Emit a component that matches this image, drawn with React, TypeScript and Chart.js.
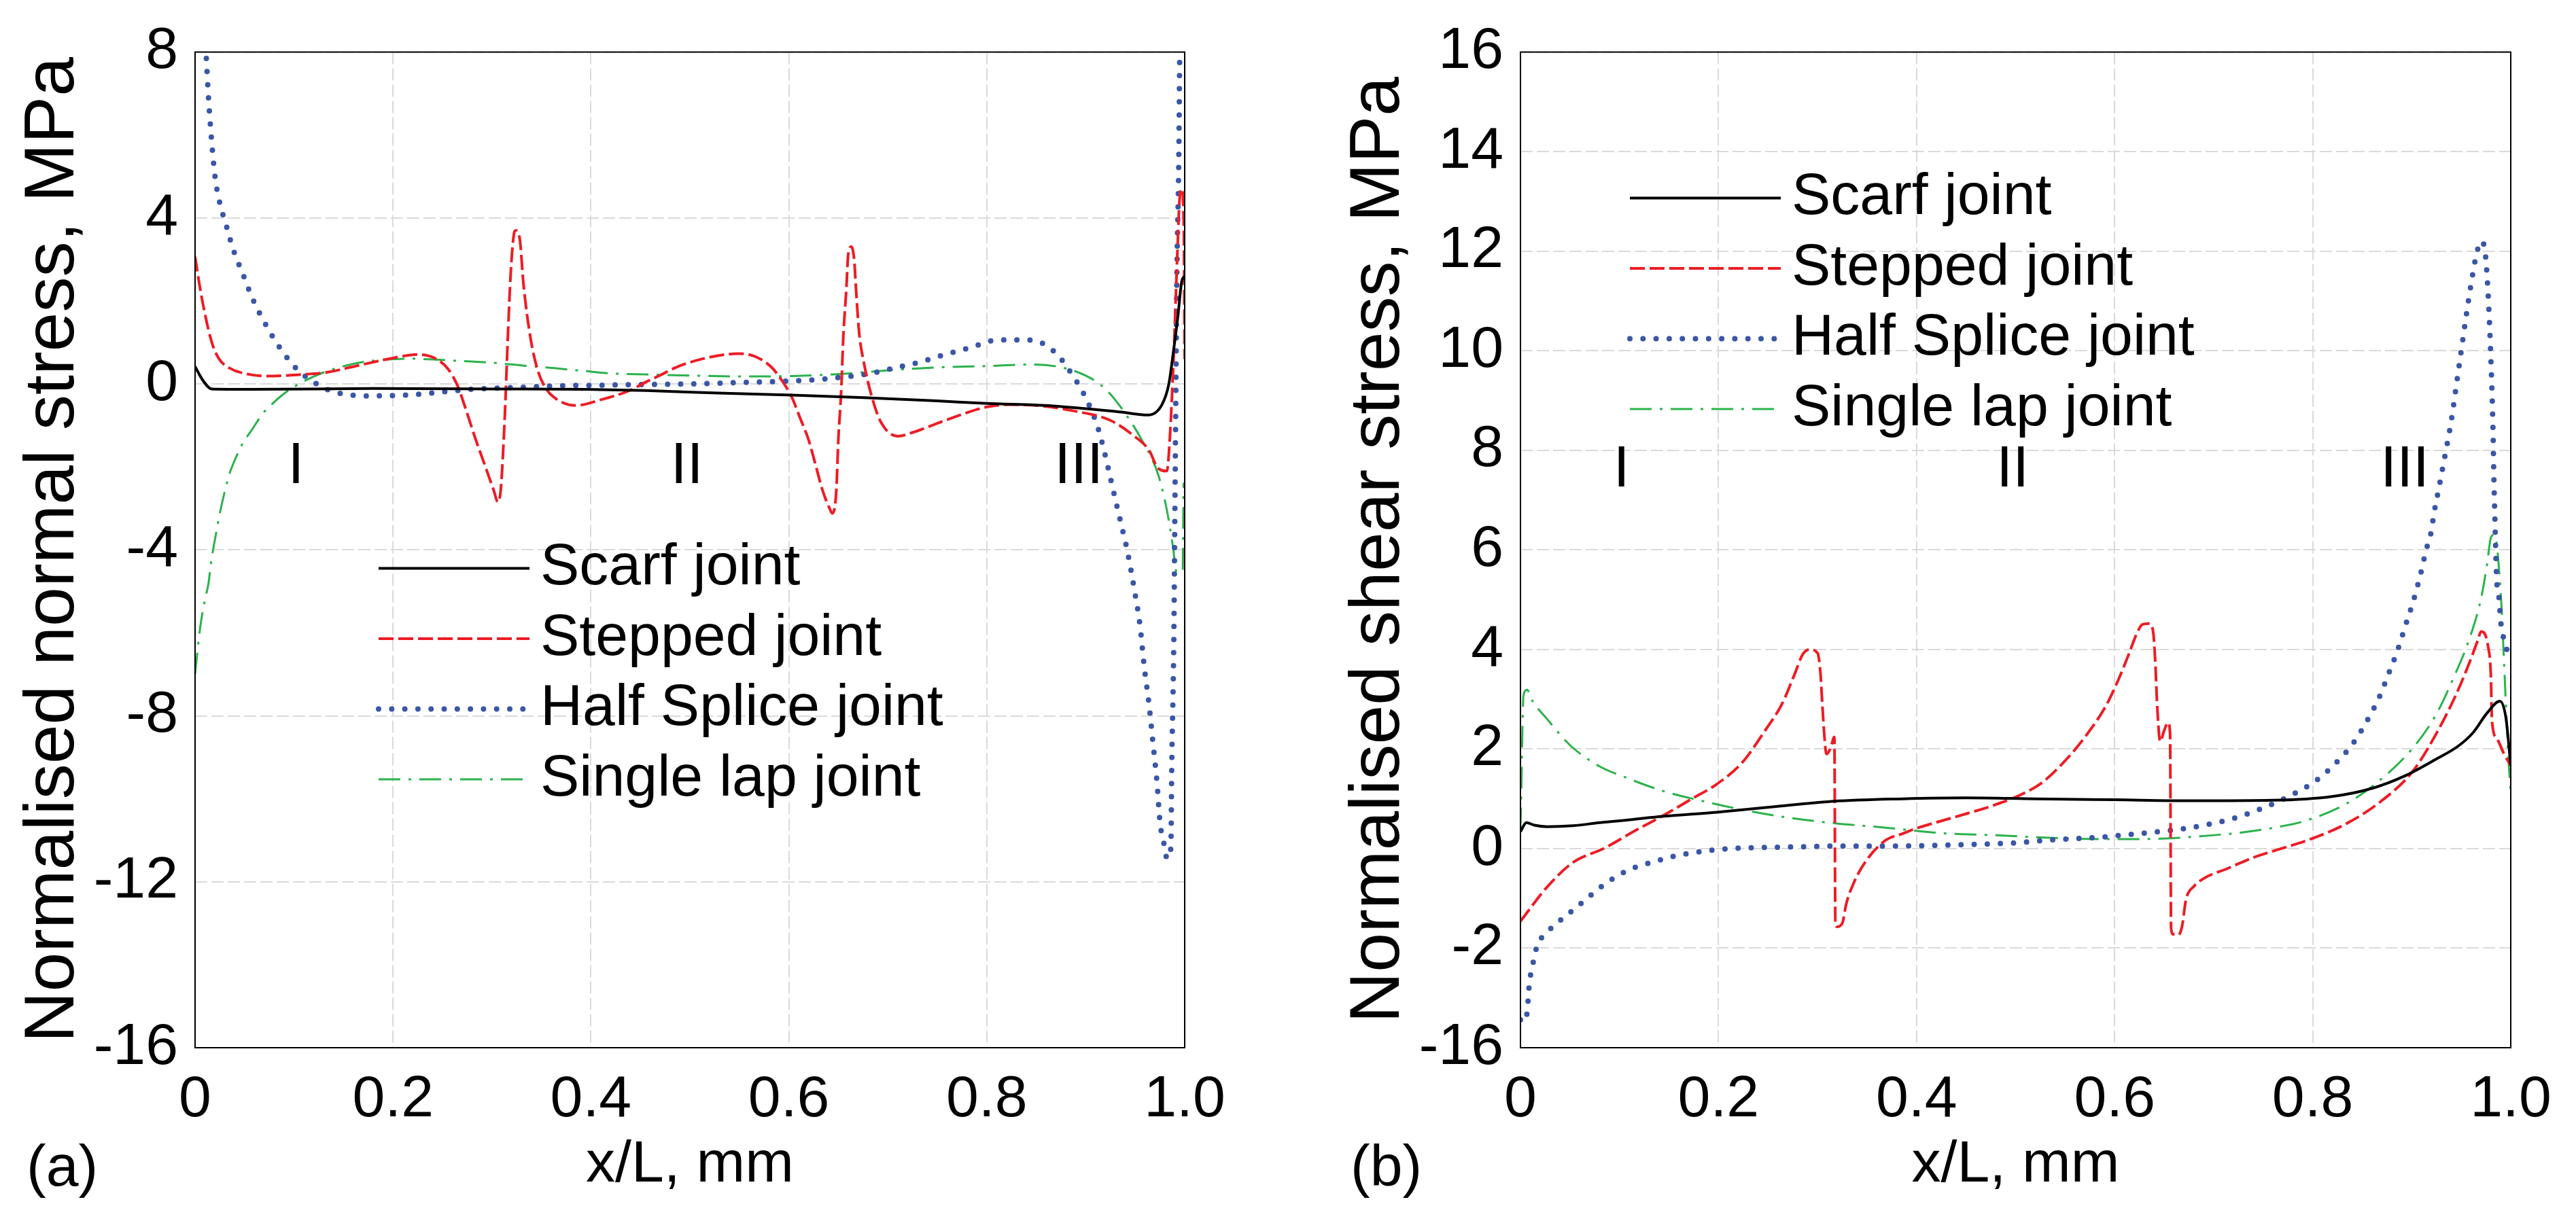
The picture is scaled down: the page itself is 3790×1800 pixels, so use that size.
import { useEffect, useRef } from "react"
import { Chart, registerables } from "chart.js"

Chart.register(...registerables)

const FONT = "'Liberation Sans', Arial, sans-serif"

// (x/L, stress) pairs

// (a) normal stress
const normalScarf = [
  [0, 0.42], [0.0075, 0.1], [0.0167, -0.12], [0.0565, -0.13], [0.18, -0.11], [0.3, -0.12],
  [0.394, -0.13], [0.455, -0.16], [0.529, -0.22], [0.603, -0.27], [0.676, -0.33], [0.75, -0.41],
  [0.8, -0.47], [0.867, -0.53], [0.936, -0.68], [0.963, -0.75], [0.977, -0.5], [0.984, 0.0],
  [0.988, 0.67], [0.993, 1.6], [0.997, 2.47], [1.0, 2.6],
]
const normalStepped = [
  [0, 3.07], [0.0046, 2.37], [0.009, 1.8], [0.0136, 1.3], [0.018, 0.92], [0.0243, 0.6],
  [0.035, 0.38], [0.057, 0.22], [0.078, 0.19], [0.103, 0.22], [0.133, 0.28], [0.164, 0.44],
  [0.195, 0.6], [0.225, 0.71], [0.244, 0.6], [0.256, 0.35], [0.265, -0.03], [0.274, -0.64],
  [0.283, -1.3], [0.293, -1.97], [0.302, -2.58], [0.306, -2.85], [0.309, -2.52], [0.313, -0.76],
  [0.316, 1.1], [0.319, 2.69], [0.322, 3.58], [0.324, 3.7], [0.328, 3.51], [0.332, 2.37],
  [0.339, 1.1], [0.346, 0.35], [0.354, -0.09], [0.363, -0.33], [0.385, -0.52], [0.409, -0.39],
  [0.44, -0.15], [0.455, 0.04], [0.47, 0.21], [0.487, 0.41], [0.512, 0.6], [0.536, 0.71],
  [0.549, 0.73], [0.566, 0.66], [0.583, 0.39], [0.593, 0.08], [0.603, -0.32], [0.612, -0.86],
  [0.62, -1.35], [0.627, -1.95], [0.634, -2.56], [0.641, -2.99], [0.644, -3.12], [0.648, -2.56],
  [0.65, -1.35], [0.653, -0.13], [0.655, 1.12], [0.658, 2.24], [0.66, 3.12], [0.663, 3.31],
  [0.666, 3.0], [0.668, 2.24], [0.671, 1.24], [0.676, 0.49], [0.684, -0.32], [0.693, -0.92],
  [0.71, -1.26], [0.725, -1.17], [0.75, -0.95], [0.774, -0.74], [0.799, -0.56], [0.823, -0.5],
  [0.845, -0.51], [0.89, -0.66], [0.925, -0.88], [0.948, -1.24], [0.964, -1.6], [0.973, -2.03],
  [0.982, -2.1], [0.985, -1.3], [0.989, 0.74], [0.992, 2.76], [0.995, 4.5], [0.997, 4.7],
  [0.999, 3.9], [1.0, 0.6],
]
const normalHalfSplice = [
  [0.004, 11], [0.0112, 7.93], [0.0135, 6.92], [0.0163, 5.99], [0.0199, 5.05], [0.0243, 4.43],
  [0.0314, 3.83], [0.0387, 3.23], [0.0483, 2.65], [0.058, 2.06], [0.07, 1.49], [0.084, 0.93],
  [0.1, 0.43], [0.11, 0.21], [0.121, 0.03], [0.133, -0.13], [0.145, -0.22], [0.158, -0.27],
  [0.172, -0.29], [0.199, -0.28], [0.225, -0.25], [0.252, -0.19], [0.279, -0.13], [0.305, -0.1],
  [0.332, -0.08], [0.359, -0.05], [0.412, -0.03], [0.466, -0.01], [0.504, 0], [0.546, 0.03],
  [0.6, 0.07], [0.627, 0.1], [0.653, 0.16], [0.68, 0.24], [0.706, 0.38], [0.733, 0.53],
  [0.758, 0.71], [0.784, 0.88], [0.808, 1.05], [0.822, 1.06], [0.836, 1.06], [0.849, 1.05],
  [0.862, 0.89], [0.872, 0.69], [0.887, 0.2], [0.895, -0.11], [0.901, -0.38], [0.911, -0.96],
  [0.918, -1.55], [0.924, -2.17], [0.93, -2.79], [0.936, -3.4], [0.942, -4.02], [0.949, -4.94],
  [0.955, -5.85], [0.959, -6.79], [0.964, -7.73], [0.968, -8.67], [0.972, -9.6], [0.975, -10.55],
  [0.98, -11.19], [0.982, -11.44], [0.986, -11.19], [0.987, -9.1], [0.989, -6.21], [0.99, -3.33],
  [0.991, -0.44], [0.992, 2.45], [0.994, 5.34], [0.995, 8.0], [0.997, 10.5],
]
const normalSingleLap = [
  [0, -7.0], [0.005, -5.9], [0.01, -5.2], [0.0136, -4.8], [0.016, -4.33], [0.0207, -3.67],
  [0.025, -3.12], [0.0295, -2.64], [0.035, -2.15], [0.041, -1.79], [0.047, -1.48], [0.057, -1.12],
  [0.069, -0.7], [0.078, -0.48], [0.093, -0.18], [0.112, 0.09], [0.13, 0.28], [0.152, 0.44],
  [0.17, 0.53], [0.195, 0.59], [0.216, 0.61], [0.24, 0.59], [0.271, 0.55], [0.302, 0.51],
  [0.332, 0.44], [0.363, 0.38], [0.394, 0.31], [0.424, 0.25], [0.455, 0.23], [0.504, 0.2],
  [0.553, 0.18], [0.603, 0.19], [0.652, 0.24], [0.701, 0.33], [0.75, 0.4], [0.799, 0.43],
  [0.845, 0.47], [0.89, 0.3], [0.918, -0.08], [0.936, -0.58], [0.959, -1.45], [0.973, -2.17],
  [0.982, -3.04], [0.988, -3.9], [0.992, -4.55], [0.998, -4.48], [0.999, -2.4], [1.0, -2.4],
]

// (b) shear stress
const shearScarf = [
  [0, 0.34], [0.006, 0.52], [0.014, 0.47], [0.027, 0.44], [0.053, 0.46], [0.08, 0.52],
  [0.106, 0.57], [0.145, 0.65], [0.198, 0.73], [0.251, 0.83], [0.316, 0.95], [0.386, 1.0],
  [0.45, 1.02], [0.52, 1.0], [0.6, 0.98], [0.68, 0.96], [0.76, 0.97], [0.821, 1.05],
  [0.86, 1.21], [0.892, 1.45], [0.924, 1.79], [0.947, 2.06], [0.962, 2.33], [0.976, 2.72],
  [0.989, 2.96], [0.995, 2.64], [1.0, 1.67],
]
const shearStepped = [
  [0, -1.46], [0.027, -0.77], [0.053, -0.28], [0.085, 0.01], [0.114, 0.34], [0.143, 0.65],
  [0.174, 1.01], [0.198, 1.29], [0.224, 1.73], [0.248, 2.4], [0.264, 2.9], [0.277, 3.51],
  [0.285, 3.9], [0.292, 4.0], [0.3, 3.93], [0.303, 3.51], [0.305, 2.84], [0.307, 2.24],
  [0.309, 1.9], [0.313, 2.01], [0.317, 2.24], [0.318, -1.5], [0.3195, -1.57], [0.325, -1.5],
  [0.329, -1.11], [0.337, -0.67], [0.35, -0.22], [0.369, 0.17], [0.386, 0.3], [0.399, 0.4],
  [0.438, 0.63], [0.478, 0.87], [0.504, 1.07], [0.525, 1.3], [0.546, 1.68], [0.57, 2.24],
  [0.591, 2.86], [0.604, 3.4], [0.614, 3.89], [0.622, 4.3], [0.628, 4.5], [0.635, 4.52],
  [0.639, 4.34], [0.641, 3.76], [0.643, 2.86], [0.646, 2.15], [0.65, 2.37], [0.654, 2.53],
  [0.656, 2.3], [0.657, -1.6], [0.659, -1.72], [0.664, -1.74], [0.668, -1.57], [0.672, -1.03],
  [0.68, -0.76], [0.69, -0.6], [0.714, -0.4], [0.74, -0.18], [0.765, -0.02], [0.798, 0.19],
  [0.833, 0.49], [0.867, 0.92], [0.901, 1.55], [0.924, 2.28], [0.944, 3.06], [0.958, 3.72],
  [0.967, 4.2], [0.97, 4.36], [0.977, 4.07], [0.98, 3.42], [0.981, 2.57], [0.986, 2.21],
  [0.993, 1.91], [1.0, 1.67],
]
const shearHalfSplice = [
  [0, -3.44], [0.005, -3.48], [0.007, -3.23], [0.008, -2.97], [0.009, -2.71], [0.011, -2.46],
  [0.014, -2.19], [0.017, -1.93], [0.025, -1.73], [0.034, -1.54], [0.045, -1.37], [0.055, -1.2],
  [0.065, -1.04], [0.075, -0.87], [0.086, -0.7], [0.097, -0.56], [0.108, -0.44], [0.121, -0.34],
  [0.134, -0.27], [0.146, -0.2], [0.16, -0.13], [0.173, -0.09], [0.186, -0.05], [0.199, -0.02],
  [0.212, 0], [0.24, 0.02], [0.266, 0.03], [0.292, 0.04], [0.318, 0.05], [0.373, 0.05],
  [0.451, 0.08], [0.504, 0.12], [0.533, 0.17], [0.559, 0.2], [0.587, 0.23], [0.613, 0.28],
  [0.64, 0.33], [0.667, 0.39], [0.693, 0.48], [0.719, 0.6], [0.744, 0.77], [0.768, 0.97],
  [0.781, 1.1], [0.803, 1.36], [0.823, 1.71], [0.841, 2.12], [0.855, 2.57], [0.867, 3.03],
  [0.877, 3.53], [0.886, 4.0], [0.894, 4.5], [0.902, 5.0], [0.909, 5.52], [0.915, 6.03],
  [0.919, 6.3], [0.923, 6.79], [0.928, 7.3], [0.933, 7.83], [0.94, 8.6], [0.945, 9.3],
  [0.95, 10.0], [0.955, 10.7], [0.96, 11.35], [0.965, 11.9], [0.97, 12.2], [0.974, 12.0],
  [0.977, 11.2], [0.98, 9.8], [0.982, 8.48], [0.983, 7.42], [0.984, 6.62], [0.985, 5.85],
  [0.986, 5.33], [0.988, 5.06], [0.99, 4.53], [0.992, 4.3], [0.996, 4.0], [1.0, 3.95],
]
const shearSingleLap = [
  [0, 0.39], [0.001, 1.29], [0.002, 2.4], [0.003, 3.07], [0.007, 3.19], [0.01, 3.04],
  [0.027, 2.6], [0.051, 2.06], [0.08, 1.65], [0.106, 1.43], [0.145, 1.15], [0.185, 0.95],
  [0.224, 0.78], [0.264, 0.64], [0.316, 0.51], [0.369, 0.42], [0.425, 0.31], [0.478, 0.27],
  [0.53, 0.22], [0.583, 0.19], [0.609, 0.19], [0.648, 0.2], [0.688, 0.25], [0.727, 0.32],
  [0.764, 0.43], [0.793, 0.56], [0.833, 0.89], [0.867, 1.36], [0.899, 1.97], [0.924, 2.67],
  [0.942, 3.42], [0.958, 4.2], [0.97, 5.02], [0.976, 5.7], [0.98, 6.25], [0.983, 6.3],
  [0.986, 6.1], [0.988, 5.65], [0.991, 4.75], [0.993, 3.84], [0.995, 2.94], [0.997, 2.04],
  [1.0, 1.07],
]

const seriesNames = ["Scarf joint", "Stepped joint", "Half Splice joint", "Single lap joint"]
const xTickLabels = ["0", "0.2", "0.4", "0.6", "0.8", "1.0"]
const normalTickLabels = ["-16", "-12", "-8", "-4", "0", "4", "8"]
const shearTickLabels = ["-16", "-2", "0", "2", "4", "6", "8", "10", "12", "14", "16"]
const regionNames = ["I", "II", "III"]
const regionX = [0.102, 0.497, 0.893]

const seriesStyles = [
  { color: "#000000", width: 4, dash: [] as number[], cap: "butt" },
  { color: "#ed1c24", width: 4, dash: [22, 7], cap: "butt" },
  { color: "#3a56a6", width: 8, dash: [0, 19.3], cap: "round" },
  { color: "#2bb24c", width: 3, dash: [32, 12, 4, 12], cap: "butt" },
]

type PanelProps = {
  series: number[][][]
  yMin: number
  yMax: number
  yStep: number
  yLabels: string[]
  yTitle: string
  yTitlePad: number
  axisWidth: number
  padRight: number
  legendLeft: number
  legendTop: number
  regionY: number
  panel: string
  panelX: number
}

function StressPanel(p: PanelProps) {
  const chartRef = useRef<HTMLCanvasElement>(null)
  const chartInstance = useRef<Chart | null>(null)

  useEffect(() => {
    if (!chartRef.current) return
    if (chartInstance.current) chartInstance.current.destroy()
    const ctx = chartRef.current.getContext("2d")
    if (!ctx) return

    // legend, region numerals, frame and panel tag
    const overlay = {
      id: "overlay",
      afterDraw(chart: any) {
        const { ctx: c, chartArea: a, scales } = chart
        c.save()
        c.font = `86px ${FONT}`
        c.fillStyle = "#000"
        c.textAlign = "center"
        c.textBaseline = "middle"
        regionNames.forEach((t, i) => {
          c.fillText(t, scales.x.getPixelForValue(regionX[i]), scales.y.getPixelForValue(p.regionY))
        })

        chart.data.datasets.forEach((ds: any, i: number) => {
          const y = a.top + p.legendTop + i * 103.5
          const x0 = a.left + p.legendLeft
          c.beginPath()
          c.strokeStyle = ds.borderColor
          c.lineWidth = ds.borderWidth
          c.lineCap = ds.borderCapStyle
          c.setLineDash(ds.borderDash)
          c.moveTo(x0, y)
          c.lineTo(x0 + 222, y)
          c.stroke()
          c.setLineDash([])
          c.textAlign = "left"
          c.fillText(ds.label, x0 + 238, y)
        })

        c.lineCap = "butt"
        c.lineWidth = 2
        c.strokeStyle = "#000"
        c.strokeRect(a.left, a.top, a.right - a.left, a.bottom - a.top)

        c.textAlign = "left"
        c.textBaseline = "alphabetic"
        c.fillText(p.panel, p.panelX, 1745)
        c.restore()
      },
    }

    chartInstance.current = new Chart(ctx, {
      type: "line",
      data: {
        datasets: p.series.map((pts, i) => ({
          label: seriesNames[i],
          data: pts.map(([x, y]) => ({ x, y })),
          borderColor: seriesStyles[i].color,
          borderWidth: seriesStyles[i].width,
          borderDash: seriesStyles[i].dash,
          borderCapStyle: seriesStyles[i].cap as CanvasLineCap,
          pointRadius: 0,
          pointHoverRadius: 0,
          fill: false,
          cubicInterpolationMode: "monotone" as const,
        })),
      },
      options: {
        responsive: true,
        maintainAspectRatio: false,
        animation: false,
        events: [],
        layout: { padding: { top: 54, right: p.padRight, left: 0, bottom: 0 } },
        scales: {
          x: {
            type: "linear",
            min: 0,
            max: 1,
            afterFit: (scale: any) => {
              scale.height = 258
            },
            ticks: {
              stepSize: 0.2,
              padding: 26,
              maxRotation: 0,
              color: "#000",
              font: { family: FONT, size: 86 },
              callback: (_v: any, i: number) => xTickLabels[i],
            },
            grid: { color: "#dadada", lineWidth: 2, drawTicks: false },
            border: { display: false, dash: [18, 6] },
            title: {
              display: true,
              text: "x/L, mm",
              color: "#000",
              font: { family: FONT, size: 86 },
              padding: { top: 0, bottom: 33 },
            },
          },
          y: {
            type: "linear",
            min: p.yMin,
            max: p.yMax,
            afterFit: (scale: any) => {
              scale.width = p.axisWidth
            },
            ticks: {
              stepSize: p.yStep,
              padding: 25,
              autoSkip: false,
              color: "#000",
              font: { family: FONT, size: 86 },
              callback: (_v: any, i: number) => p.yLabels[i],
            },
            grid: { color: "#dadada", lineWidth: 2, drawTicks: false },
            border: { display: false, dash: [18, 6] },
            title: {
              display: true,
              text: p.yTitle,
              color: "#000",
              font: { family: FONT, size: 104 },
              padding: { top: p.yTitlePad, bottom: 0 },
            },
          },
        },
        plugins: {
          legend: { display: false },
          tooltip: { enabled: false },
        },
      },
      plugins: [overlay],
    })

    return () => {
      if (chartInstance.current) {
        chartInstance.current.destroy()
        chartInstance.current = null
      }
    }
  }, [])

  return (
    <div style={{ position: "relative", width: 1895, height: 1800 }}>
      <canvas ref={chartRef} />
    </div>
  )
}

export default function App() {
  return (
    <div
      style={{
        position: "absolute",
        left: 0,
        top: 0,
        width: 3790,
        height: 1800,
        display: "flex",
        background: "#fff",
      }}
    >
      <StressPanel
        series={[normalScarf, normalStepped, normalHalfSplice, normalSingleLap]}
        yMin={-16}
        yMax={8}
        yStep={4}
        yLabels={normalTickLabels}
        yTitle="Normalised normal stress, MPa"
        yTitlePad={17}
        axisWidth={287}
        padRight={152}
        legendLeft={270}
        legendTop={760}
        regionY={-2.0}
        panel="(a)"
        panelX={39}
      />
      <StressPanel
        series={[shearScarf, shearStepped, shearHalfSplice, shearSingleLap]}
        yMin={-4}
        yMax={16}
        yStep={2}
        yLabels={shearTickLabels}
        yTitle="Normalised shear stress, MPa"
        yTitlePad={72}
        axisWidth={342}
        padRight={96}
        legendLeft={161}
        legendTop={215}
        regionY={7.6}
        panel="(b)"
        panelX={92}
      />
    </div>
  )
}
